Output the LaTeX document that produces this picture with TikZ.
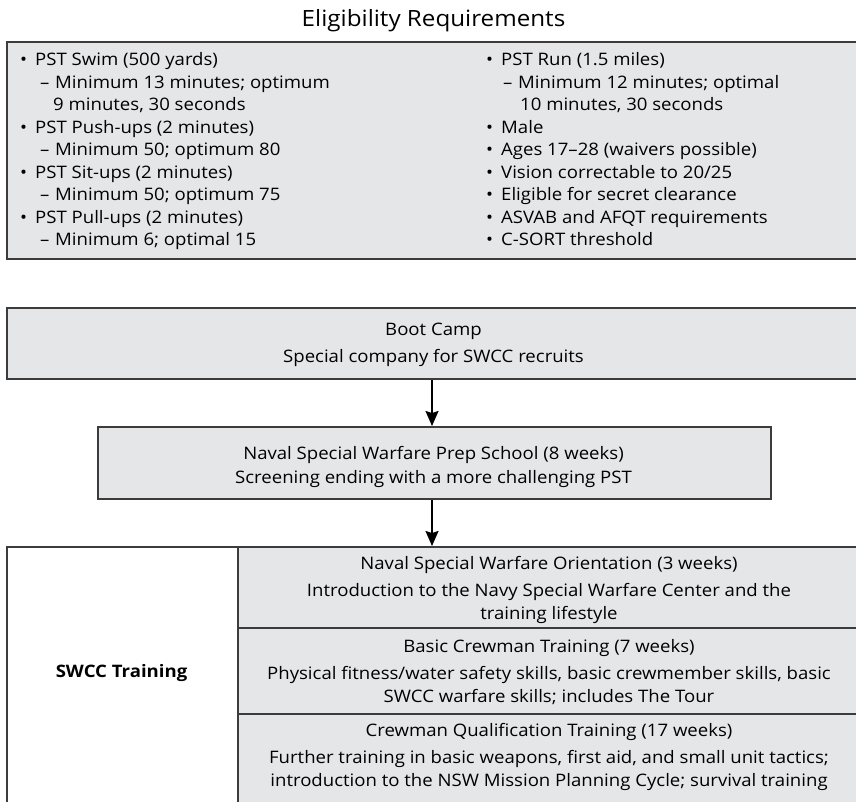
\documentclass[tikz,border=0pt]{standalone}
\usepackage{fontspec}
\setmainfont[FakeStretch=1.08]{Open Sans}
\usetikzlibrary{arrows.meta}
\definecolor{boxfill}{RGB}{229,230,231}
\definecolor{edgecol}{RGB}{60,60,60}
\newcommand\bulletline[4]{\node[ltxt] (#1m) at (#2,#3) {•};\node[ltxt] (#1) at (#2+15,#3) {#4};}
\newcommand\dashline[4]{\node[ltxt] (#1m) at (#2,#3) {–};\node[ltxt] (#1) at (#2+15,#3) {#4};}
\newcommand\contline[4]{\node[ltxt] (#1) at (#2+15,#3) {#4};}
\begin{document}
\begin{tikzpicture}[x=1pt,y=-1pt,
  box/.style={draw=edgecol, line width=1.6pt, fill=boxfill, inner sep=0pt, anchor=north west},
  cell/.style={draw=edgecol, line width=1.6pt, inner sep=0pt, anchor=north west},
  txt/.style={inner sep=0pt, anchor=base, font=\fontsize{17.2}{20}\selectfont},
  ltxt/.style={txt, anchor=base west},
  flow/.style={-{Stealth[length=15pt,width=13pt,inset=2pt]}, line width=1.8pt, black}]
\path[use as bounding box, clip] (0,0) rectangle (856,801);
% title
\node[txt, font=\fontsize{22.4}{26}\selectfont] (title) at (433.5,26) {Eligibility Requirements};
% eligibility box
\node[box, minimum width=855pt, minimum height=217pt] (elig) at (6,41) {};
\bulletline{l1}{20}{65.7}{PST Swim (500 yards)}
\dashline{l2}{40}{88.2}{Minimum 13 minutes; optimum}
\contline{l3}{38}{110.7}{9 minutes, 30 seconds}
\bulletline{l4}{20}{133.2}{PST Push-ups (2 minutes)}
\dashline{l5}{40}{155.7}{Minimum 50; optimum 80}
\bulletline{l6}{20}{178.2}{PST Sit-ups (2 minutes)}
\dashline{l7}{40}{200.7}{Minimum 50; optimum 75}
\bulletline{l8}{20}{223.2}{PST Pull-ups (2 minutes)}
\dashline{l9}{40}{245.7}{Minimum 6; optimal 15}
\bulletline{r1}{486}{65.7}{PST Run (1.5 miles)}
\dashline{r2}{503}{88.2}{Minimum 12 minutes; optimal}
\contline{r3}{505}{110.7}{10 minutes, 30 seconds}
\bulletline{r4}{486}{133.2}{Male}
\bulletline{r5}{486}{155.7}{Ages 17–28 (waivers possible)}
\bulletline{r6}{486}{178.2}{Vision correctable to 20/25}
\bulletline{r7}{486}{200.7}{Eligible for secret clearance}
\bulletline{r8}{486}{223.2}{ASVAB and AFQT requirements}
\bulletline{r9}{486}{245.7}{C-SORT threshold}
% boot camp
\node[box, minimum width=855pt, minimum height=71pt] (boot) at (6,307) {};
\node[txt] (boot1) at (433.5,335) {Boot Camp};
\node[txt] (boot2) at (433.5,362) {Special company for SWCC recruits};
% prep school
\node[box, minimum width=673pt, minimum height=72pt] (prep) at (97,426) {};
\node[txt] (prep1) at (433.5,459) {Naval Special Warfare Prep School (8 weeks)};
\node[txt] (prep2) at (433.5,483) {Screening ending with a more challenging PST};
% training table
\node[cell, fill=white, minimum width=231pt, minimum height=280pt] (swcc) at (6,546) {};
\node[box, minimum width=624pt, minimum height=81pt] (nswo) at (237,546) {};
\node[box, minimum width=624pt, minimum height=86pt] (bct) at (237,627) {};
\node[box, minimum width=624pt, minimum height=100pt] (cqt) at (237,713) {};
\node[txt, font=\fontsize{17.2}{20}\selectfont\bfseries] (swcct) at (121.5,677) {SWCC Training};
\node[txt] (o1) at (549,569) {Naval Special Warfare Orientation (3 weeks)};
\node[txt] (o2) at (549,596) {Introduction to the Navy Special Warfare Center and the};
\node[txt] (o3) at (549,619) {training lifestyle};
\node[txt] (b1) at (549,652) {Basic Crewman Training (7 weeks)};
\node[txt] (b2) at (549,679) {Physical fitness/water safety skills, basic crewmember skills, basic};
\node[txt] (b3) at (549,702) {SWCC warfare skills; includes The Tour};
\node[txt] (c1) at (549,736) {Crewman Qualification Training (17 weeks)};
\node[txt] (c2) at (549,763) {Further training in basic weapons, first aid, and small unit tactics;};
\node[txt] (c3) at (549,786) {introduction to the NSW Mission Planning Cycle; survival training};
% connectors
\draw[flow] (boot.south -| 432,0) -- (prep.north -| 432,0);
\draw[flow] (prep.south -| 432,0) -- (nswo.north -| 432,0);
\end{tikzpicture}
\end{document}
